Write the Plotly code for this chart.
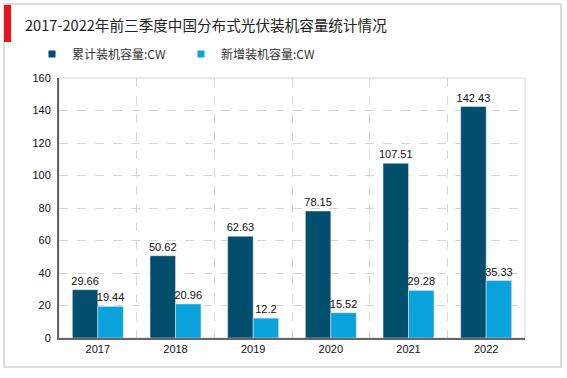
import plotly.graph_objects as go

years = ["2017", "2018", "2019", "2020", "2021", "2022"]
cumulative = [29.66, 50.62, 62.63, 78.15, 107.51, 142.43]
added = [19.44, 20.96, 12.2, 15.52, 29.28, 35.33]
series_names = ["累计装机容量:CW", "新增装机容量:CW"]
title_text = "2017-2022年前三季度中国分布式光伏装机容量统计情况"
y_ticks = [0, 20, 40, 60, 80, 100, 120, 140, 160]

W, H = 567, 378
L, R, T, B = 59, 42, 78, 40
pw, ph = W - L - R, H - T - B

def px_x(p):
    return (p - L) / pw

def px_y(p):
    return (H - B - p) / ph

dark = "#014E6D"
light = "#0AA2DA"
font_lbl = dict(family="Liberation Sans, Arial, sans-serif", size=11, color="#111")

fig = go.Figure()
fig.add_trace(go.Bar(x=years, y=cumulative, name=series_names[0], marker_color=dark,
                     text=[str(v) for v in cumulative], textposition="outside",
                     constraintext="none",
                     textfont=font_lbl, cliponaxis=False, showlegend=False))
fig.add_trace(go.Bar(x=years, y=added, name=series_names[1], marker_color=light,
                     text=[str(v) for v in added], textposition="outside",
                     constraintext="none",
                     textfont=font_lbl, cliponaxis=False, showlegend=False))
# legend entries with small square markers
for nm, col in zip(series_names, [dark, light]):
    fig.add_trace(go.Scatter(x=[None], y=[None], mode="markers", name=nm,
                             marker=dict(symbol="square", size=7, color=col)))

shapes = [
    # outer border
    dict(type="rect", xref="paper", yref="paper", x0=px_x(4), x1=px_x(561),
         y0=px_y(367), y1=px_y(4), line=dict(color="#dcdcdc", width=2), layer="below"),
    # red bar
    dict(type="rect", xref="paper", yref="paper", x0=px_x(4), x1=px_x(11),
         y0=px_y(42), y1=px_y(5), line=dict(width=0), fillcolor="#e8161b"),
    # plot frame
    dict(type="rect", xref="paper", yref="paper", x0=0, x1=1, y0=0, y1=1,
         line=dict(color="#d9d9d9", width=1), layer="below"),
]

fig.update_layout(
    width=W, height=H,
    margin=dict(l=L, r=R, t=T, b=B),
    paper_bgcolor="white", plot_bgcolor="white",
    barmode="group", bargap=0.344, bargroupgap=0,
    title=dict(text=title_text, x=25 / W, xanchor="left", xref="container",
               y=1 - 26 / H, yanchor="middle", yref="container",
               font=dict(family="Noto Sans CJK SC, sans-serif", size=14.6, color="#222")),
    legend=dict(orientation="h", x=px_x(32), y=px_y(54), xanchor="left", yanchor="middle",
                entrywidth=104, entrywidthmode="pixels", itemwidth=30,
                font=dict(family="Noto Sans CJK SC, sans-serif", size=12, color="#333"),
                bgcolor="rgba(0,0,0,0)", tracegroupgap=0),
    shapes=shapes,
    font=font_lbl,
)
fig.update_xaxes(type="category", tickson="boundaries", showgrid=True,
                 gridcolor="#d6d6d6", griddash="dash", gridwidth=1,
                 showline=True, linecolor="#666", linewidth=2,
                 ticks="", tickfont=font_lbl, zeroline=False)
fig.update_yaxes(range=[0, 160], tickvals=y_ticks, showgrid=True,
                 gridcolor="#d6d6d6", griddash="dash", gridwidth=1,
                 showline=True, linecolor="#666", linewidth=2,
                 ticks="", ticklabelstandoff=4, tickfont=font_lbl, zeroline=False)

fig.write_html("out.html", config={"displayModeBar": False},
               post_script="document.body.style.margin='0';")
